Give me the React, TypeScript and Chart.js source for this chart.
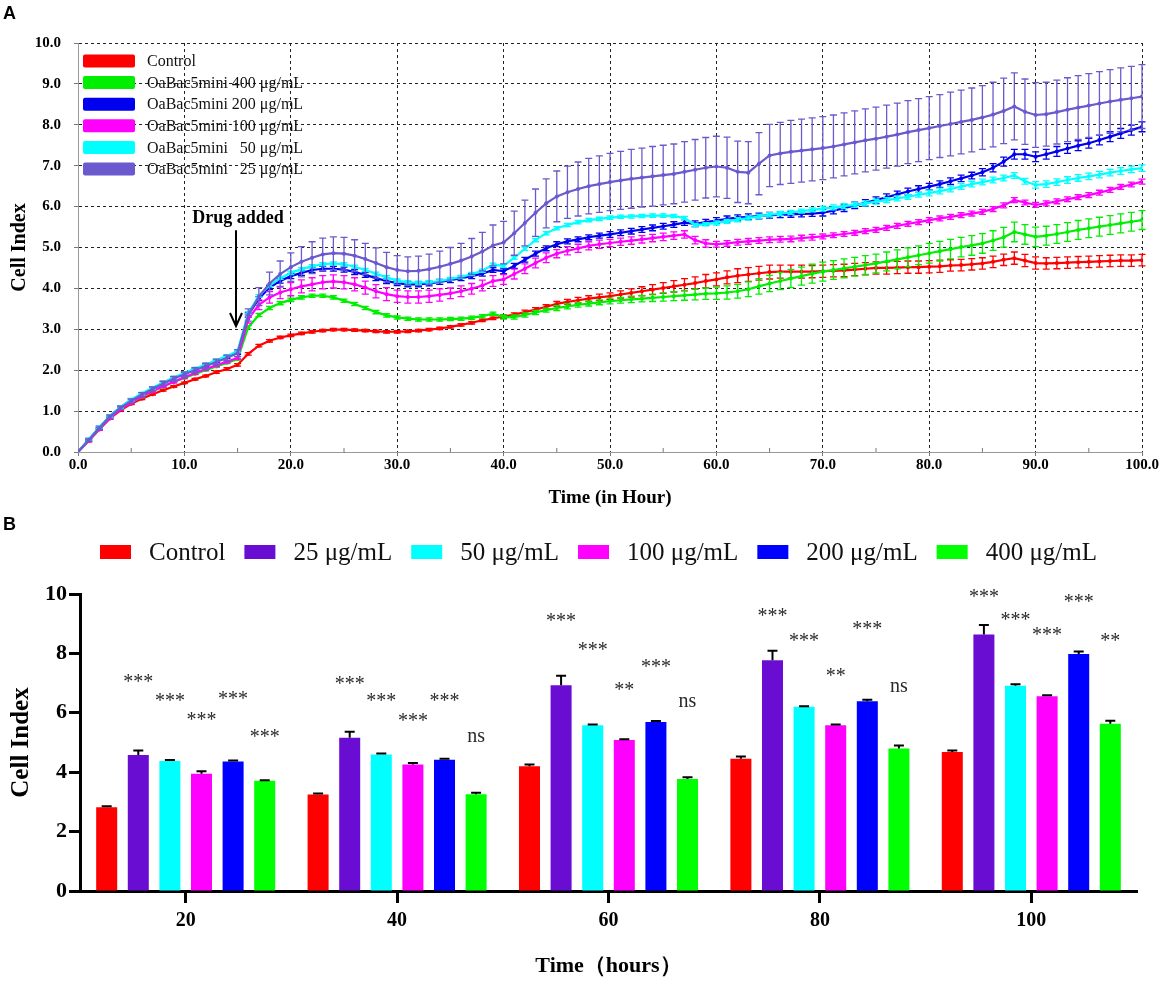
import { useEffect, useRef } from 'react';
import { Chart, registerables } from 'chart.js';

Chart.register(...registerables);

const SERIF = '"Liberation Serif", "Times New Roman", serif';
const SANS = '"Liberation Sans", Arial, sans-serif';

// ---------- panel A: real-time cell index, hourly readings ----------
const HOURS = [
  0, 1, 2, 3, 4, 5, 6, 7, 8, 9,
  10, 11, 12, 13, 14, 15, 16, 17, 18, 19,
  20, 21, 22, 23, 24, 25, 26, 27, 28, 29,
  30, 31, 32, 33, 34, 35, 36, 37, 38, 39,
  40, 41, 42, 43, 44, 45, 46, 47, 48, 49,
  50, 51, 52, 53, 54, 55, 56, 57, 58, 59,
  60, 61, 62, 63, 64, 65, 66, 67, 68, 69,
  70, 71, 72, 73, 74, 75, 76, 77, 78, 79,
  80, 81, 82, 83, 84, 85, 86, 87, 88, 89,
  90, 91, 92, 93, 94, 95, 96, 97, 98, 99, 100,
];

const CONTROL = [
  0, 0.27, 0.55, 0.82, 1.02, 1.18, 1.3, 1.41, 1.51, 1.6,
  1.69, 1.78, 1.86, 1.95, 2.03, 2.13, 2.4, 2.6, 2.72, 2.8,
  2.85, 2.9, 2.94, 2.97, 2.99, 2.99, 2.98, 2.97, 2.95, 2.94,
  2.94, 2.95, 2.97, 2.99, 3.02, 3.06, 3.11, 3.16, 3.22, 3.27,
  3.31, 3.36, 3.42, 3.48, 3.55, 3.62, 3.67, 3.71, 3.75, 3.78,
  3.81, 3.85, 3.89, 3.93, 3.97, 4.01, 4.05, 4.09, 4.13, 4.18,
  4.22, 4.27, 4.31, 4.34, 4.37, 4.4, 4.41, 4.41, 4.41, 4.41,
  4.42, 4.43, 4.44, 4.46, 4.48, 4.5, 4.5, 4.51, 4.52, 4.52,
  4.53, 4.54, 4.56, 4.57, 4.59, 4.61, 4.65, 4.7, 4.74, 4.68,
  4.62, 4.61, 4.62, 4.63, 4.64, 4.65, 4.66, 4.67, 4.68, 4.68, 4.69,
];
const CONTROL_ERR = [
  0, 0.02, 0.02, 0.02, 0.02, 0.02, 0.02, 0.02, 0.02, 0.02,
  0.02, 0.02, 0.02, 0.03, 0.03, 0.03, 0.03, 0.03, 0.03, 0.03,
  0.03, 0.03, 0.03, 0.03, 0.03, 0.03, 0.03, 0.03, 0.03, 0.03,
  0.03, 0.03, 0.03, 0.03, 0.03, 0.03, 0.03, 0.03, 0.03, 0.03,
  0.04, 0.04, 0.05, 0.05, 0.05, 0.06, 0.06, 0.07, 0.07, 0.08,
  0.08, 0.09, 0.1, 0.11, 0.12, 0.13, 0.14, 0.15, 0.15, 0.16,
  0.16, 0.16, 0.17, 0.17, 0.17, 0.17, 0.16, 0.16, 0.16, 0.15,
  0.15, 0.15, 0.15, 0.15, 0.15, 0.15, 0.15, 0.15, 0.15, 0.15,
  0.15, 0.15, 0.14, 0.14, 0.14, 0.14, 0.14, 0.14, 0.15, 0.15,
  0.15, 0.14, 0.14, 0.14, 0.14, 0.14, 0.14, 0.14, 0.14, 0.14, 0.14,
];

const C400 = [
  0, 0.28, 0.57, 0.84, 1.05, 1.21, 1.35, 1.48, 1.6, 1.71,
  1.81, 1.91, 2.0, 2.09, 2.18, 2.27, 3.05, 3.35, 3.52, 3.64,
  3.72, 3.78, 3.82, 3.82, 3.78, 3.7, 3.62, 3.52, 3.42, 3.34,
  3.29, 3.26, 3.24, 3.24, 3.24, 3.25, 3.26, 3.28, 3.32, 3.38,
  3.3, 3.3, 3.35, 3.41, 3.47, 3.52, 3.56, 3.6, 3.63, 3.66,
  3.69, 3.71, 3.73, 3.75, 3.77, 3.79, 3.81, 3.83, 3.85, 3.87,
  3.88, 3.9, 3.93, 3.98, 4.05, 4.12, 4.18, 4.24, 4.3, 4.36,
  4.41, 4.45, 4.49, 4.53, 4.57, 4.61, 4.66, 4.71, 4.76, 4.81,
  4.86, 4.91, 4.96, 5.01, 5.05, 5.1, 5.17, 5.25, 5.38, 5.32,
  5.26, 5.29, 5.33, 5.38, 5.43, 5.47, 5.51, 5.55, 5.59, 5.63, 5.67,
];
const C400_ERR = [
  0, 0.02, 0.02, 0.02, 0.02, 0.02, 0.02, 0.02, 0.02, 0.02,
  0.02, 0.02, 0.02, 0.02, 0.02, 0.02, 0.04, 0.04, 0.04, 0.04,
  0.04, 0.04, 0.04, 0.04, 0.04, 0.04, 0.04, 0.04, 0.04, 0.04,
  0.04, 0.04, 0.04, 0.04, 0.04, 0.04, 0.04, 0.04, 0.04, 0.04,
  0.05, 0.05, 0.05, 0.05, 0.05, 0.06, 0.06, 0.06, 0.06, 0.06,
  0.07, 0.07, 0.08, 0.08, 0.09, 0.1, 0.11, 0.12, 0.13, 0.14,
  0.15, 0.16, 0.17, 0.18, 0.19, 0.2, 0.21, 0.22, 0.22, 0.23,
  0.23, 0.23, 0.23, 0.23, 0.23, 0.23, 0.23, 0.23, 0.23, 0.23,
  0.24, 0.24, 0.24, 0.24, 0.24, 0.24, 0.24, 0.24, 0.24, 0.24,
  0.24, 0.23, 0.23, 0.23, 0.23, 0.23, 0.23, 0.23, 0.23, 0.23, 0.23,
];

const C200 = [
  0, 0.3, 0.6, 0.88, 1.1, 1.27, 1.42, 1.56, 1.69, 1.81,
  1.92, 2.02, 2.12, 2.22, 2.32, 2.42, 3.35, 3.75, 4.02, 4.18,
  4.3, 4.38, 4.45, 4.48, 4.48, 4.46, 4.4, 4.33, 4.25, 4.18,
  4.13, 4.1, 4.1, 4.12, 4.16, 4.2, 4.25, 4.3, 4.36, 4.45,
  4.42, 4.55, 4.7, 4.85, 4.98, 5.08, 5.15, 5.2, 5.25, 5.29,
  5.32, 5.36, 5.4, 5.44, 5.48, 5.52, 5.56, 5.61, 5.58, 5.62,
  5.66, 5.7, 5.73, 5.75, 5.77, 5.79, 5.8, 5.81, 5.82, 5.83,
  5.85, 5.9, 5.96, 6.03, 6.09, 6.16, 6.23, 6.3, 6.37, 6.43,
  6.49, 6.55, 6.62, 6.69, 6.76, 6.84, 6.95, 7.1, 7.28, 7.28,
  7.22, 7.28, 7.35, 7.42, 7.49, 7.55, 7.63, 7.71, 7.79, 7.87, 7.95,
];
const C200_ERR = [
  0, 0.03, 0.03, 0.03, 0.03, 0.03, 0.03, 0.03, 0.03, 0.03,
  0.03, 0.03, 0.03, 0.03, 0.03, 0.03, 0.05, 0.05, 0.05, 0.05,
  0.06, 0.06, 0.06, 0.06, 0.06, 0.06, 0.06, 0.06, 0.06, 0.06,
  0.06, 0.06, 0.06, 0.06, 0.06, 0.06, 0.06, 0.06, 0.06, 0.06,
  0.06, 0.06, 0.06, 0.06, 0.06, 0.06, 0.06, 0.06, 0.06, 0.06,
  0.07, 0.07, 0.07, 0.07, 0.07, 0.07, 0.07, 0.07, 0.07, 0.07,
  0.07, 0.07, 0.07, 0.07, 0.07, 0.07, 0.07, 0.07, 0.07, 0.07,
  0.08, 0.08, 0.08, 0.08, 0.08, 0.08, 0.08, 0.08, 0.08, 0.08,
  0.08, 0.08, 0.08, 0.08, 0.08, 0.09, 0.1, 0.11, 0.12, 0.12,
  0.12, 0.12, 0.12, 0.12, 0.12, 0.12, 0.12, 0.12, 0.12, 0.12, 0.12,
];

const C100 = [
  0, 0.28, 0.56, 0.83, 1.05, 1.21, 1.36, 1.49, 1.61, 1.72,
  1.83, 1.93, 2.03, 2.12, 2.21, 2.3, 3.25, 3.6, 3.78, 3.9,
  3.98, 4.05, 4.1, 4.15, 4.17, 4.15, 4.1, 4.02, 3.93, 3.86,
  3.81, 3.79, 3.79, 3.81, 3.84, 3.88, 3.93, 3.99, 4.07, 4.18,
  4.22, 4.35, 4.48, 4.62, 4.75, 4.85, 4.92, 4.98, 5.04, 5.08,
  5.11, 5.14, 5.17, 5.2, 5.23, 5.26, 5.29, 5.32, 5.18, 5.1,
  5.08, 5.1, 5.13, 5.15, 5.17, 5.19, 5.2, 5.21, 5.23, 5.25,
  5.27, 5.3, 5.33, 5.36, 5.4, 5.43, 5.48, 5.53, 5.58, 5.62,
  5.67, 5.71, 5.75, 5.79, 5.83, 5.87, 5.94, 6.03, 6.16, 6.1,
  6.04, 6.08, 6.13, 6.18, 6.23, 6.28, 6.34, 6.41, 6.48, 6.54, 6.61,
];
const C100_ERR = [
  0, 0.03, 0.03, 0.03, 0.03, 0.03, 0.03, 0.03, 0.03, 0.03,
  0.03, 0.03, 0.03, 0.03, 0.03, 0.03, 0.1, 0.12, 0.14, 0.15,
  0.16, 0.16, 0.16, 0.16, 0.16, 0.16, 0.16, 0.16, 0.16, 0.16,
  0.15, 0.15, 0.15, 0.15, 0.15, 0.13, 0.13, 0.13, 0.13, 0.13,
  0.12, 0.12, 0.12, 0.12, 0.12, 0.1, 0.1, 0.1, 0.1, 0.1,
  0.09, 0.09, 0.09, 0.09, 0.09, 0.09, 0.09, 0.09, 0.09, 0.09,
  0.07, 0.07, 0.07, 0.07, 0.07, 0.07, 0.07, 0.07, 0.07, 0.07,
  0.06, 0.06, 0.06, 0.06, 0.06, 0.06, 0.06, 0.06, 0.06, 0.06,
  0.06, 0.06, 0.06, 0.06, 0.06, 0.06, 0.06, 0.06, 0.06, 0.06,
  0.06, 0.06, 0.06, 0.06, 0.06, 0.06, 0.06, 0.06, 0.06, 0.06, 0.06,
];

const C50 = [
  0, 0.3, 0.6, 0.88, 1.1, 1.28, 1.43, 1.57, 1.7, 1.82,
  1.93, 2.04, 2.14, 2.24, 2.35, 2.47, 3.4, 3.82, 4.07, 4.25,
  4.38, 4.47, 4.54, 4.59, 4.61, 4.59, 4.53, 4.45, 4.36, 4.27,
  4.19, 4.15, 4.14, 4.15, 4.18, 4.23, 4.28, 4.35, 4.43, 4.58,
  4.55, 4.75, 4.97, 5.18, 5.35, 5.47, 5.55, 5.62, 5.67, 5.7,
  5.73, 5.75, 5.76, 5.77, 5.78, 5.78, 5.77, 5.72, 5.55, 5.57,
  5.6, 5.64, 5.68, 5.72, 5.76, 5.8, 5.83, 5.86, 5.89, 5.92,
  5.95, 5.98, 6.01, 6.04, 6.08, 6.12, 6.16, 6.2, 6.24, 6.29,
  6.33, 6.38, 6.43, 6.49, 6.55, 6.6, 6.65, 6.7, 6.76, 6.62,
  6.53, 6.55, 6.6, 6.65, 6.7, 6.74, 6.78, 6.83, 6.87, 6.91, 6.94,
];
const C50_ERR = [
  0, 0.03, 0.03, 0.03, 0.03, 0.03, 0.03, 0.03, 0.03, 0.03,
  0.03, 0.03, 0.03, 0.03, 0.03, 0.03, 0.03, 0.03, 0.03, 0.03,
  0.04, 0.04, 0.04, 0.04, 0.04, 0.04, 0.04, 0.04, 0.04, 0.04,
  0.04, 0.04, 0.04, 0.04, 0.04, 0.04, 0.04, 0.04, 0.04, 0.04,
  0.04, 0.04, 0.04, 0.04, 0.04, 0.04, 0.04, 0.04, 0.04, 0.04,
  0.04, 0.04, 0.04, 0.04, 0.04, 0.04, 0.04, 0.04, 0.04, 0.04,
  0.05, 0.05, 0.05, 0.05, 0.05, 0.05, 0.05, 0.05, 0.05, 0.05,
  0.06, 0.06, 0.06, 0.06, 0.06, 0.06, 0.06, 0.06, 0.06, 0.06,
  0.07, 0.07, 0.07, 0.07, 0.07, 0.07, 0.07, 0.07, 0.07, 0.07,
  0.08, 0.08, 0.08, 0.08, 0.08, 0.08, 0.08, 0.08, 0.08, 0.08, 0.08,
];

const C25 = [
  0, 0.29, 0.58, 0.86, 1.08, 1.25, 1.4, 1.54, 1.67, 1.79,
  1.9, 2.0, 2.1, 2.2, 2.3, 2.42, 3.35, 3.8, 4.12, 4.35,
  4.52, 4.65, 4.75, 4.83, 4.86, 4.85, 4.8, 4.72, 4.62, 4.52,
  4.45, 4.42, 4.43, 4.47, 4.53, 4.6, 4.68, 4.78, 4.9, 5.05,
  5.12, 5.35, 5.6, 5.85, 6.08, 6.25, 6.35, 6.43, 6.5, 6.55,
  6.6, 6.64, 6.68, 6.71, 6.74, 6.77, 6.8, 6.85, 6.9, 6.95,
  6.98, 6.95, 6.85, 6.83, 7.05, 7.25, 7.3, 7.34, 7.37, 7.4,
  7.43, 7.47, 7.52, 7.57, 7.62, 7.66, 7.71, 7.76, 7.82, 7.87,
  7.92, 7.97, 8.02, 8.07, 8.12, 8.18, 8.25, 8.34, 8.45, 8.32,
  8.24, 8.26, 8.31, 8.37, 8.42, 8.47, 8.52, 8.57, 8.61, 8.65, 8.69,
];
const C25_ERR = [
  0, 0.03, 0.03, 0.04, 0.04, 0.05, 0.05, 0.05, 0.06, 0.06,
  0.06, 0.06, 0.07, 0.07, 0.07, 0.08, 0.15, 0.22, 0.28, 0.32,
  0.35, 0.37, 0.39, 0.4, 0.4, 0.4, 0.39, 0.38, 0.37, 0.36,
  0.35, 0.35, 0.36, 0.37, 0.38, 0.4, 0.42, 0.44, 0.47, 0.5,
  0.52, 0.54, 0.56, 0.58, 0.6, 0.62, 0.64, 0.66, 0.68, 0.69,
  0.7, 0.71, 0.72, 0.72, 0.73, 0.73, 0.73, 0.74, 0.74, 0.74,
  0.74, 0.75, 0.75, 0.76, 0.76, 0.76, 0.76, 0.77, 0.77, 0.77,
  0.77, 0.77, 0.77, 0.77, 0.77, 0.77, 0.77, 0.77, 0.77, 0.77,
  0.77, 0.77, 0.78, 0.78, 0.78, 0.78, 0.79, 0.8, 0.82, 0.8,
  0.79, 0.78, 0.78, 0.78, 0.78, 0.78, 0.78, 0.78, 0.78, 0.78, 0.78,
];

const LINE_LABELS = [
  'Control',
  'OaBac5mini 400 μg/mL',
  'OaBac5mini 200 μg/mL',
  'OaBac5mini 100 μg/mL',
  'OaBac5mini   50 μg/mL',
  'OaBac5mini   25 μg/mL',
];
const LINE_COLORS = ['#FF0000', '#00EE00', '#0000EE', '#FF00FF', '#00FFFF', '#6A5ACD'];
const LINE_VALUES = [CONTROL, C400, C200, C100, C50, C25];
const LINE_ERRORS = [CONTROL_ERR, C400_ERR, C200_ERR, C100_ERR, C50_ERR, C25_ERR];

const MINOR_X = [5, 15, 25, 35, 45, 55, 65, 75, 85, 95];
// "Drug added" marker, in data units
const DRUG_AT = 14.85;
const DRUG_TEXT_Y = 5.72;
const ARROW_FROM = 5.42;
const ARROW_TO = 3.08;

// ---------- panel B: cell index at selected hours ----------
const BAR_HOURS = ['20', '40', '60', '80', '100'];
const BAR_LABELS = ['Control', '25 μg/mL', '50 μg/mL', '100 μg/mL', '200 μg/mL', '400 μg/mL'];
const BAR_COLORS = ['#FF0000', '#6A0DD2', '#00FFFF', '#FF00FF', '#0000FF', '#00FF00'];

const B_CONTROL = [2.82, 3.25, 4.2, 4.45, 4.68];
const B_25 = [4.58, 5.16, 6.93, 7.77, 8.64];
const B_50 = [4.38, 4.6, 5.58, 6.2, 6.91];
const B_100 = [3.95, 4.26, 5.08, 5.58, 6.56];
const B_200 = [4.36, 4.42, 5.69, 6.39, 7.98];
const B_400 = [3.71, 3.26, 3.77, 4.8, 5.63];
const B_CONTROL_ERR = [0.03, 0.03, 0.06, 0.08, 0.05];
const B_25_ERR = [0.15, 0.2, 0.32, 0.32, 0.32];
const B_50_ERR = [0.03, 0.03, 0.03, 0.02, 0.05];
const B_100_ERR = [0.08, 0.05, 0.03, 0.03, 0.03];
const B_200_ERR = [0.03, 0.03, 0.03, 0.05, 0.08];
const B_400_ERR = [0.02, 0.05, 0.06, 0.1, 0.1];

const SIG_25 = ['***', '***', '***', '***', '***'];
const SIG_50 = ['***', '***', '***', '***', '***'];
const SIG_100 = ['***', '***', '**', '**', '***'];
const SIG_200 = ['***', '***', '***', '***', '***'];
const SIG_400 = ['***', 'ns', 'ns', 'ns', '**'];
// height (cell index) at which each mark sits
const SIG_25_Y = [7.16, 7.1, 9.23, 9.4, 10.03];
const SIG_50_Y = [6.54, 6.54, 8.25, 8.56, 9.26];
const SIG_100_Y = [5.89, 5.87, 6.9, 7.39, 8.77];
const SIG_200_Y = [6.6, 6.54, 7.69, 8.94, 9.86];
const SIG_400_Y = [5.31, 5.17, 6.37, 6.86, 8.56];

const BAR_VALUES = [B_CONTROL, B_25, B_50, B_100, B_200, B_400];
const BAR_ERRORS = [B_CONTROL_ERR, B_25_ERR, B_50_ERR, B_100_ERR, B_200_ERR, B_400_ERR];
const BAR_SIGS = [null, SIG_25, SIG_50, SIG_100, SIG_200, SIG_400];
const BAR_SIG_Y = [null, SIG_25_Y, SIG_50_Y, SIG_100_Y, SIG_200_Y, SIG_400_Y];

const lineDecor = {
  id: 'lineDecor',
  afterDatasetDraw(chart: any, args: any) {
    const ds = chart.data.datasets[args.index];
    const err: number[] = ds.errors;
    if (!err) return;
    const { ctx, scales: { y } } = chart;
    ctx.save();
    ctx.strokeStyle = ds.borderColor;
    ctx.lineWidth = 1.3;
    ctx.beginPath();
    args.meta.data.forEach((pt: any, i: number) => {
      const e = err[i];
      if (!e) return;
      const v = ds.data[i].y;
      const t = y.getPixelForValue(v + e);
      const b = y.getPixelForValue(v - e);
      ctx.moveTo(pt.x, t); ctx.lineTo(pt.x, b);
      ctx.moveTo(pt.x - 3.5, t); ctx.lineTo(pt.x + 3.5, t);
      ctx.moveTo(pt.x - 3.5, b); ctx.lineTo(pt.x + 3.5, b);
    });
    ctx.stroke();
    ctx.restore();
  },
  afterDraw(chart: any) {
    const { ctx, chartArea, scales: { x, y } } = chart;
    ctx.save();
    // inward minor ticks
    ctx.strokeStyle = '#777';
    ctx.lineWidth = 1;
    ctx.beginPath();
    MINOR_X.forEach((v) => {
      const px = x.getPixelForValue(v);
      ctx.moveTo(px, chartArea.bottom); ctx.lineTo(px, chartArea.bottom - 4);
    });
    ctx.stroke();

    // legend inside the plot
    ctx.font = `16px ${SERIF}`;
    ctx.textBaseline = 'middle';
    ctx.textAlign = 'left';
    LINE_LABELS.forEach((label, i) => {
      const cy = chartArea.top + 18 + i * 21.6;
      ctx.fillStyle = LINE_COLORS[i];
      ctx.beginPath();
      ctx.roundRect(chartArea.left + 5, cy - 6.5, 52, 13, 2);
      ctx.fill();
      ctx.fillStyle = '#111';
      ctx.fillText(label, chartArea.left + 69, cy + 1);
    });

    // drug added arrow
    const ax = x.getPixelForValue(DRUG_AT);
    const y1 = y.getPixelForValue(ARROW_FROM);
    const y2 = y.getPixelForValue(ARROW_TO);
    ctx.strokeStyle = '#000';
    ctx.lineWidth = 2;
    ctx.beginPath();
    ctx.moveTo(ax, y1); ctx.lineTo(ax, y2);
    ctx.moveTo(ax - 6, y2 - 13); ctx.lineTo(ax, y2); ctx.lineTo(ax + 6, y2 - 13);
    ctx.stroke();
    ctx.fillStyle = '#000';
    ctx.font = `bold 18px ${SERIF}`;
    ctx.textAlign = 'center';
    ctx.fillText('Drug added', ax + 2, y.getPixelForValue(DRUG_TEXT_Y));

    ctx.font = `bold 18px ${SANS}`;
    ctx.textAlign = 'left';
    ctx.textBaseline = 'alphabetic';
    ctx.fillText('A', 3, 19);
    ctx.restore();
  },
};

const barDecor = {
  id: 'barDecor',
  afterDatasetsDraw(chart: any) {
    const { ctx, scales: { y } } = chart;
    ctx.save();
    ctx.strokeStyle = '#000';
    ctx.lineWidth = 2;
    chart.data.datasets.forEach((ds: any, di: number) => {
      const meta = chart.getDatasetMeta(di);
      ctx.beginPath();
      meta.data.forEach((bar: any, i: number) => {
        const t = y.getPixelForValue(ds.data[i] + ds.errors[i]);
        ctx.moveTo(bar.x, bar.y); ctx.lineTo(bar.x, t);
        ctx.moveTo(bar.x - 5, t); ctx.lineTo(bar.x + 5, t);
      });
      ctx.stroke();
    });
    ctx.restore();
  },
  afterDraw(chart: any) {
    const { ctx, scales: { y } } = chart;
    ctx.save();
    // significance marks
    ctx.fillStyle = '#2a2a2a';
    ctx.font = `20px ${SERIF}`;
    ctx.textAlign = 'center';
    ctx.textBaseline = 'alphabetic';
    chart.data.datasets.forEach((ds: any, di: number) => {
      if (!ds.sig) return;
      const meta = chart.getDatasetMeta(di);
      meta.data.forEach((bar: any, i: number) => {
        const s = ds.sig[i];
        const cy = y.getPixelForValue(ds.sigY[i]);
        ctx.fillText(s, bar.x, cy + (s === 'ns' ? 5 : 10));
      });
    });

    // legend row
    ctx.font = `25px ${SERIF}`;
    ctx.textAlign = 'left';
    ctx.textBaseline = 'middle';
    let lx = 100;
    const cy = 37;
    BAR_LABELS.forEach((label, i) => {
      ctx.fillStyle = BAR_COLORS[i];
      ctx.fillRect(lx, cy - 7, 31, 14);
      lx += 31 + 18;
      ctx.fillStyle = '#111';
      ctx.fillText(label, lx, cy + 1);
      lx += ctx.measureText(label).width + 19;
    });

    ctx.fillStyle = '#000';
    ctx.font = `bold 18px ${SANS}`;
    ctx.textBaseline = 'alphabetic';
    ctx.fillText('B', 3, 15);
    ctx.restore();
  },
};

function LineChart() {
  const canvasRef = useRef<HTMLCanvasElement>(null);
  const chartRef = useRef<Chart | null>(null);

  useEffect(() => {
    if (!canvasRef.current) return;
    Chart.getChart(canvasRef.current)?.destroy();

    const tickFont = { family: SERIF, size: 15, weight: 'bold' as const };
    const datasets = LINE_VALUES.map((vals, i) => ({
      label: LINE_LABELS[i],
      data: HOURS.map((h, j) => ({ x: h, y: vals[j] })),
      errors: LINE_ERRORS[i],
      borderColor: LINE_COLORS[i],
      backgroundColor: LINE_COLORS[i],
      borderWidth: 2.2,
      pointRadius: 2,
      pointBorderWidth: 0,
      tension: 0,
      order: LINE_VALUES.length - i,
    }));

    chartRef.current = new Chart(canvasRef.current, {
      type: 'line',
      data: { datasets },
      options: {
        responsive: false,
        animation: false,
        events: [],
        layout: { padding: { top: 43, right: 28, bottom: 0, left: 0 } },
        plugins: { legend: { display: false }, tooltip: { enabled: false } },
        scales: {
          x: {
            type: 'linear',
            min: 0,
            max: 100,
            afterFit: (s: any) => { s.height = 63; },
            ticks: {
              stepSize: 10,
              padding: 0,
              color: '#000',
              font: tickFont,
              callback: (v: any) => Number(v).toFixed(1),
            },
            grid: { color: '#222', lineWidth: 1, tickLength: 4, tickColor: '#777' },
            border: { display: true, color: '#999', width: 1, dash: [3, 3] },
            title: {
              display: true,
              text: 'Time (in Hour)',
              color: '#000',
              font: { family: SERIF, size: 19, weight: 'bold' },
              padding: { top: 0, bottom: 6 },
            },
          },
          y: {
            min: 0,
            max: 10,
            afterFit: (s: any) => { s.width = 78; },
            ticks: {
              stepSize: 1,
              padding: 13,
              color: '#000',
              font: tickFont,
              callback: (v: any) => Number(v).toFixed(1),
            },
            grid: { color: '#222', lineWidth: 1, tickLength: 4, tickColor: '#777' },
            border: { display: true, color: '#999', width: 1, dash: [3, 3] },
            title: {
              display: true,
              text: 'Cell Index',
              color: '#000',
              font: { family: SERIF, size: 20, weight: 'bold' },
              padding: { top: 8, bottom: 0 },
            },
          },
        },
      } as any,
      plugins: [lineDecor],
    });

    return () => { chartRef.current?.destroy(); chartRef.current = null; };
  }, []);

  return <canvas ref={canvasRef} width={1170} height={515} style={{ display: 'block' }} />;
}

function BarChart() {
  const canvasRef = useRef<HTMLCanvasElement>(null);
  const chartRef = useRef<Chart | null>(null);

  useEffect(() => {
    if (!canvasRef.current) return;
    Chart.getChart(canvasRef.current)?.destroy();

    const datasets = BAR_VALUES.map((vals, i) => ({
      label: BAR_LABELS[i],
      data: vals,
      errors: BAR_ERRORS[i],
      sig: BAR_SIGS[i],
      sigY: BAR_SIG_Y[i],
      backgroundColor: BAR_COLORS[i],
      borderWidth: 0,
      categoryPercentage: 0.897,
      barPercentage: 0.665,
    }));

    chartRef.current = new Chart(canvasRef.current, {
      type: 'bar',
      data: { labels: BAR_HOURS, datasets },
      options: {
        responsive: false,
        animation: false,
        events: [],
        layout: { padding: { top: 79, right: 33, bottom: 0, left: 0 } },
        plugins: { legend: { display: false }, tooltip: { enabled: false } },
        scales: {
          x: {
            afterFit: (s: any) => { s.height = 94; },
            ticks: {
              padding: 6,
              color: '#000',
              font: { family: SERIF, size: 20, weight: 'bold' },
            },
            grid: {
              offset: false,
              drawOnChartArea: false,
              tickLength: 12,
              tickWidth: 3,
              tickColor: '#000',
            },
            border: { display: true, color: '#000', width: 3 },
            title: {
              display: true,
              text: 'Time（hours）',
              color: '#000',
              font: { family: SERIF, size: 22, weight: 'bold' },
              padding: { top: 0, bottom: 5 },
            },
          },
          y: {
            min: 0,
            max: 10,
            afterFit: (s: any) => { s.width = 80; },
            ticks: {
              stepSize: 2,
              padding: 2,
              color: '#000',
              font: { family: SERIF, size: 22, weight: 'bold' },
            },
            grid: {
              drawOnChartArea: false,
              tickLength: 11,
              tickWidth: 3,
              tickColor: '#000',
            },
            border: { display: true, color: '#000', width: 3 },
            title: {
              display: true,
              text: 'Cell Index',
              color: '#000',
              font: { family: SERIF, size: 25, weight: 'bold' },
              padding: { top: 7, bottom: 0 },
            },
          },
        },
      } as any,
      plugins: [barDecor],
    });

    return () => { chartRef.current?.destroy(); chartRef.current = null; };
  }, []);

  return <canvas ref={canvasRef} width={1170} height={470} style={{ display: 'block' }} />;
}

export default function App() {
  return (
    <div style={{ position: 'absolute', left: 0, top: 0, width: 1170, height: 985, background: '#fff' }}>
      <LineChart />
      <BarChart />
    </div>
  );
}
